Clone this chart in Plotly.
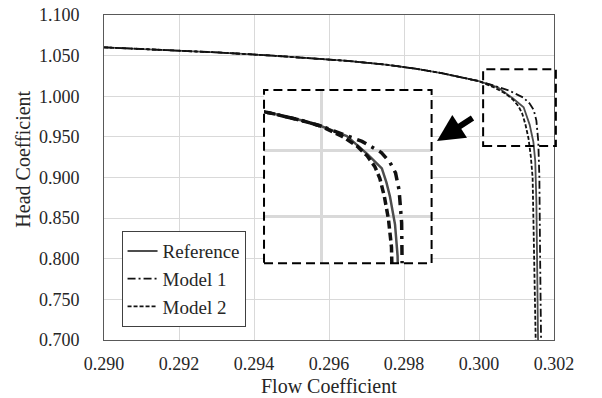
import plotly.graph_objects as go

# ---- data ---------------------------------------------------------------
ref_x = [0.2900, 0.2915, 0.2930, 0.2945, 0.2955, 0.2965, 0.2975, 0.2983, 0.2990,
         0.2996, 0.3000, 0.3005, 0.3009, 0.30119, 0.30128, 0.30135, 0.30145,
         0.30150, 0.30153, 0.30155, 0.30157, 0.30158]
ref_y = [1.0602, 1.0572, 1.0540, 1.0500, 1.0470, 1.0435, 1.0390, 1.0340, 1.0285,
         1.0230, 1.0185, 1.0110, 0.9975, 0.9865, 0.9758, 0.9651, 0.9437,
         0.9200, 0.8700, 0.8000, 0.7000, 0.6800]

m1_x = [0.2900, 0.2915, 0.2930, 0.2945, 0.2955, 0.2965, 0.2975, 0.2983, 0.2990,
        0.2996, 0.3000, 0.3004, 0.3008, 0.30118, 0.30135, 0.30146, 0.30153,
        0.30158, 0.30161, 0.30163, 0.30165, 0.30166]
m1_y = [1.0602, 1.0572, 1.0540, 1.0500, 1.0470, 1.0435, 1.0390, 1.0340, 1.0285,
        1.0230, 1.0185, 1.0130, 1.0070, 0.9985, 0.9910, 0.9830, 0.9700,
        0.9450, 0.9000, 0.8000, 0.7000, 0.6800]

m2_x = [0.2900, 0.2915, 0.2930, 0.2945, 0.2955, 0.2965, 0.2975, 0.2983, 0.2990,
        0.2996, 0.3000, 0.3004, 0.3007, 0.3009, 0.30105, 0.30115, 0.30124,
        0.30132, 0.30138, 0.30143, 0.30148, 0.30151, 0.30152]
m2_y = [1.0602, 1.0572, 1.0540, 1.0500, 1.0470, 1.0435, 1.0390, 1.0340, 1.0285,
        1.0230, 1.0185, 1.0110, 1.0035, 0.9960, 0.9880, 0.9790, 0.9650,
        0.9480, 0.9266, 0.9000, 0.8000, 0.7000, 0.6800]

series_names = ["Reference", "Model 1", "Model 2"]

x_ticks = [0.290, 0.292, 0.294, 0.296, 0.298, 0.300, 0.302]
y_ticks = [0.700, 0.750, 0.800, 0.850, 0.900, 0.950, 1.000, 1.050, 1.100]

# ---- layout constants ---------------------------------------------------
X_RANGE = [0.290, 0.302]
Y_RANGE = [0.700, 1.100]
ZOOM_X = [0.30011, 0.30205]          # region shown magnified
ZOOM_Y = [0.9387, 1.0331]
INSET_X_RANGE = [0.29887, 0.30217]
INSET_Y_RANGE = [0.9143, 1.0460]
INSET_DOM_X = [0.3556, 0.728]
INSET_DOM_Y = [0.236, 0.769]

FONT = "Liberation Serif, Times New Roman, serif"
GRID = "#d9d9d9"
TEXT = "#262626"


def px(v):
    return (v - X_RANGE[0]) / (X_RANGE[1] - X_RANGE[0])


def py(v):
    return (v - Y_RANGE[0]) / (Y_RANGE[1] - Y_RANGE[0])


def dx(f):
    return X_RANGE[0] + f * (X_RANGE[1] - X_RANGE[0])


def dy(f):
    return Y_RANGE[0] + f * (Y_RANGE[1] - Y_RANGE[0])


styles = [
    dict(color="#4d4d4d", dash="solid"),
    dict(color="#111111", dash="8px,3px,2px,3px"),
    dict(color="#111111", dash="4px,2px"),
]
inset_styles = [
    dict(color="#4d4d4d", dash="solid", width=2.5),
    dict(color="#111111", dash="10px,6px,3px,6px", width=3.5),
    dict(color="#111111", dash="8px,4px", width=3.5),
]

fig = go.Figure()

# white panel behind the magnified view (hides the main grid there)
bx0, bx1 = dx(INSET_DOM_X[0]), dx(INSET_DOM_X[1])
by0, by1 = dy(INSET_DOM_Y[0]), dy(INSET_DOM_Y[1])
fig.add_trace(go.Scatter(
    x=[bx0, bx1, bx1, bx0, bx0], y=[by0, by0, by1, by1, by0],
    mode="lines", fill="toself", fillcolor="white",
    line=dict(width=0, color="white"), hoverinfo="skip", showlegend=False,
    xaxis="x", yaxis="y",
))

data = [(ref_x, ref_y), (m1_x, m1_y), (m2_x, m2_y)]
for (xs, ys), name, st in zip(data, series_names, styles):
    fig.add_trace(go.Scatter(
        x=xs, y=ys, mode="lines", name=name,
        line=dict(color=st["color"], dash=st["dash"], width=1.8),
        xaxis="x", yaxis="y",
    ))

for (xs, ys), name, st in zip(data, series_names, inset_styles):
    fig.add_trace(go.Scatter(
        x=xs, y=ys, mode="lines", name=name, showlegend=False,
        line=dict(color=st["color"], dash=st["dash"], width=st["width"]),
        xaxis="x2", yaxis="y2",
    ))

shapes = [
    # border of the magnified view
    dict(type="rect", xref="paper", yref="paper",
         x0=INSET_DOM_X[0], x1=INSET_DOM_X[1],
         y0=INSET_DOM_Y[0], y1=INSET_DOM_Y[1],
         line=dict(color="black", width=2, dash="9px,5px")),
    # zoom window on the main curve
    dict(type="rect", xref="paper", yref="paper",
         x0=px(ZOOM_X[0]), x1=px(ZOOM_X[1]),
         y0=py(ZOOM_Y[0]), y1=py(ZOOM_Y[1]),
         line=dict(color="black", width=2, dash="9px,5px")),
]

annotations = [
    dict(xref="paper", yref="paper", x=0.74, y=0.612,
         ax=37, ay=-24, axref="pixel", ayref="pixel",
         showarrow=True, arrowhead=2, arrowsize=0.9, arrowwidth=6,
         arrowcolor="black", text=""),
    dict(xref="paper", yref="paper", x=-0.18, y=0.555,
         xanchor="center", yanchor="middle", textangle=-90, showarrow=False,
         text="Head Coefficient", font=dict(family=FONT, size=20, color=TEXT)),
    dict(xref="paper", yref="paper", x=0.5, y=-0.142,
         xanchor="center", yanchor="middle", showarrow=False,
         text="Flow Coefficient", font=dict(family=FONT, size=20, color=TEXT)),
]

axis_font = dict(family=FONT, size=18, color=TEXT)

fig.update_layout(
    width=602, height=398,
    margin=dict(l=104, r=48, t=15, b=58, autoexpand=False),
    paper_bgcolor="white", plot_bgcolor="white",
    font=dict(family=FONT, color=TEXT),
    showlegend=True,
    legend=dict(
        x=0.039, y=0.335, xanchor="left", yanchor="top",
        bgcolor="white", bordercolor="#404040", borderwidth=1,
        font=dict(family=FONT, size=19, color=TEXT),
        itemwidth=30,
    ),
    xaxis=dict(
        range=X_RANGE, tickvals=x_ticks,
        ticktext=[f"{v:.3f}" for v in x_ticks],
        showgrid=True, gridcolor=GRID, gridwidth=1,
        showline=True, linecolor="#595959", linewidth=1, mirror=True,
        zeroline=False, ticks="", ticklabelstandoff=7,
        tickfont=axis_font, automargin=False,
    ),
    yaxis=dict(
        range=Y_RANGE, tickvals=y_ticks,
        ticktext=[f"{v:.3f}" for v in y_ticks],
        showgrid=True, gridcolor=GRID, gridwidth=1,
        showline=True, linecolor="#595959", linewidth=1, mirror=True,
        zeroline=False, ticks="", ticklabelstandoff=20,
        tickfont=axis_font, automargin=False,
    ),
    xaxis2=dict(
        domain=INSET_DOM_X, anchor="y2", range=INSET_X_RANGE,
        tickvals=[0.300], showticklabels=False, ticks="",
        showgrid=True, gridcolor=GRID, gridwidth=2.5,
        showline=False, zeroline=False,
    ),
    yaxis2=dict(
        domain=INSET_DOM_Y, anchor="x2", range=INSET_Y_RANGE,
        tickvals=[0.950, 1.000], showticklabels=False, ticks="",
        showgrid=True, gridcolor=GRID, gridwidth=2.5,
        showline=False, zeroline=False,
    ),
    shapes=shapes,
    annotations=annotations,
)

fig.write_html("out.html")
